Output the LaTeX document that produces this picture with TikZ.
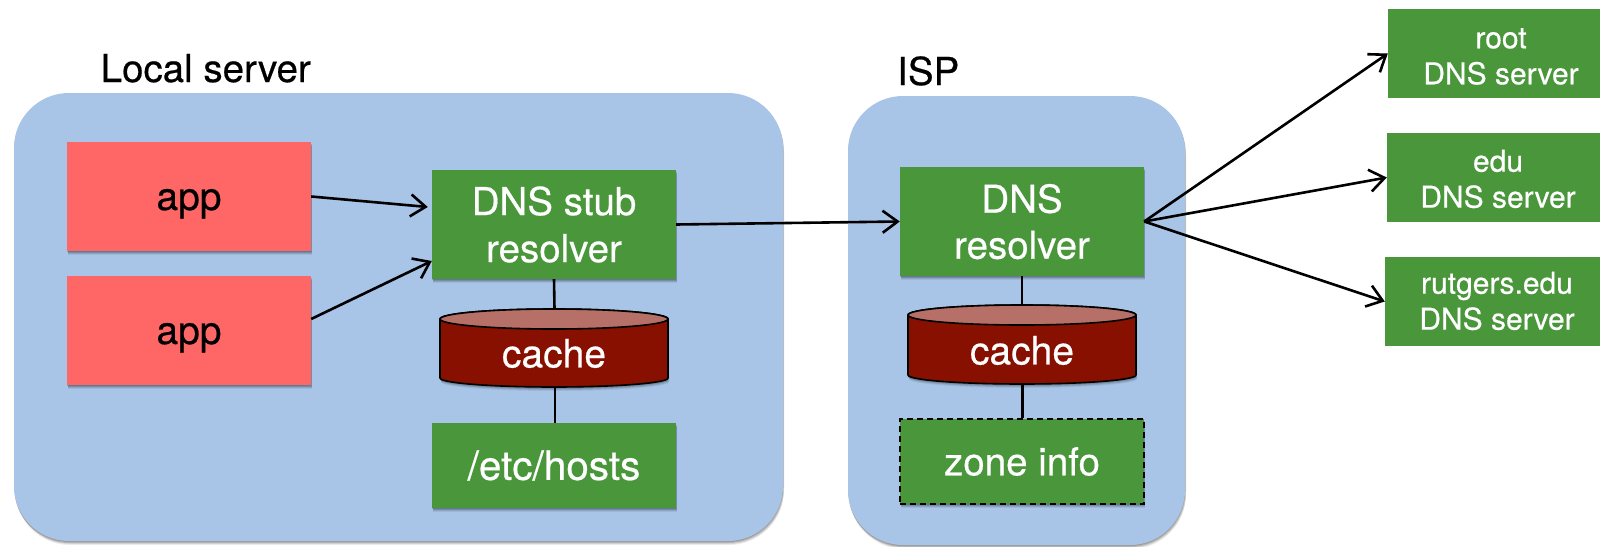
\documentclass[tikz,border=0pt]{standalone}
\usepackage{fontspec}
\setmainfont{TeX Gyre Heros}[RawFeature={embolden=0.5}]
\usetikzlibrary{arrows.meta,shadows}
\definecolor{panel}{HTML}{A8C5E8}
\definecolor{boxgreen}{HTML}{4A963A}
\definecolor{appred}{HTML}{FF6666}
\definecolor{cachered}{HTML}{871000}
\definecolor{cachetop}{HTML}{B77067}
\tikzset{
  softshadow/.style={
    drop shadow={shadow xshift=0pt,shadow yshift=-1pt,opacity=.14,fill=black},
    drop shadow={shadow xshift=0.5pt,shadow yshift=-2pt,opacity=.14,fill=black},
    drop shadow={shadow xshift=1pt,shadow yshift=-3pt,opacity=.10,fill=black},
    drop shadow={shadow xshift=1pt,shadow yshift=-4pt,opacity=.07,fill=black}},
  panelbox/.style={rectangle,rounded corners=55pt,fill=panel,inner sep=0pt,softshadow},
  greenbox/.style={rectangle,fill=boxgreen,inner sep=0pt,text=white,align=center,font=\fontsize{38.5}{46}\selectfont,softshadow},
  appbox/.style={rectangle,fill=appred,inner sep=0pt,text=black,text height=27pt,text depth=0pt,font=\fontsize{39}{47}\selectfont,softshadow},
  srvbox/.style={rectangle,fill=boxgreen,inner sep=0pt},
  srvtext/.style={inner sep=0pt,text=white,align=center,font=\fontsize{30}{36}\selectfont},
  cachetext/.style={inner sep=0pt,text=white,font=\fontsize{39}{47}\selectfont},
  heading/.style={inner sep=0pt,anchor=base west,text=black,font=\fontsize{38.5}{44}\selectfont},
  arrowline/.style={draw=black,line width=2.6pt,-{Straight Barb[length=15pt,width=22pt,line width=2.6pt]}},
  plainline/.style={draw=black,line width=2.6pt},
  cylbody/.style={fill=cachered,draw=black,line width=1.6pt,line join=round},
  cyltop/.style={fill=cachetop,draw=black,line width=1.6pt}
}
\newcommand{\cylinder}[5]{%
  \path[cylbody,softshadow] (#1,#3) -- (#1,#4) arc[start angle=180,end angle=360,x radius=#5pt,y radius=9pt] -- (#2,#3) arc[start angle=0,end angle=180,x radius=#5pt,y radius=10pt] -- cycle;
  \path[cyltop] (#1,#3) arc[start angle=180,end angle=540,x radius=#5pt,y radius=10pt] -- cycle;
}
\begin{document}
\begin{tikzpicture}[x=1pt,y=-1pt]
\useasboundingbox (0,0) rectangle (1600,546);
\fill[white] (0,0) rectangle (1600,546);

% panels
\node[panelbox,minimum width=769pt,minimum height=448pt] (local) at (398.5,317) {};
\node[panelbox,minimum width=337pt,minimum height=449pt] (isp) at (1016.5,320.5) {};
\node[heading] (localt) at (100.5,82) {Local server};
\node[heading] (ispt) at (897,85) {ISP};

% apps
\node[appbox,minimum width=244pt,minimum height=109pt] (app1) at (189,196.5) {app};
\node[appbox,minimum width=244pt,minimum height=109pt] (app2) at (189,330.5) {app};

% local column
\node[greenbox,minimum width=244pt,minimum height=109pt,font=\fontsize{38.5}{47}\selectfont] (stub) at (554,224.5) {\rule{0pt}{28pt}DNS stub\\resolver};
\node[greenbox,minimum width=244pt,minimum height=85pt,font=\fontsize{40.5}{47}\selectfont] (hosts) at (554,465.5) {/etc/hosts};
\coordinate (ca) at (554.5,309);
\coordinate (cb) at (555,387);
\draw[plainline] (stub.south) -- (ca);
\draw[plainline] (cb) -- (cb |- hosts.north);
\cylinder{440}{668}{319}{378}{114}
\node[cachetext] (cache1) at (554,353.5) {cache};

% ISP column
\node[greenbox,minimum width=244pt,minimum height=109pt] (resolver) at (1022,221.5) {\rule{0pt}{29pt}DNS\\resolver};
\node[greenbox,minimum width=244pt,minimum height=85pt,draw=black,dashed,line width=1.5pt,dash pattern=on 6pt off 4pt] (zone) at (1022,461.5) {zone info};
\coordinate (cc) at (1022,306);
\coordinate (cd) at (1022.7,383);
\draw[plainline] (resolver.south) -- (cc);
\draw[plainline] (cd) -- (cd |- zone.north);
\cylinder{908}{1136}{315}{375}{114}
\node[cachetext] (cache2) at (1022,350.5) {cache};

% servers
\node[srvbox,minimum width=212pt,minimum height=89pt] (root) at (1494,53.5) {};
\node[srvbox,minimum width=213pt,minimum height=89pt] (edu) at (1493.5,177.5) {};
\node[srvbox,minimum width=215pt,minimum height=89pt] (rutgers) at (1492.5,301.5) {};
\node[srvtext] (roott) at (1501,56.5) {root\\DNS server};
\node[srvtext] (edut) at (1498,179) {edu\\DNS server};
\node[srvtext] (rutgerst) at (1497,301) {rutgers.edu\\DNS server};

% connectors
\draw[arrowline] (app1.east) -- ([xshift=-4pt,yshift=17.5pt]stub.west);
\draw[arrowline] ([yshift=11.5pt]app2.east) -- ([yshift=-36.5pt]stub.west);
\draw[arrowline] (stub.east) -- (resolver.west);
\draw[arrowline] (resolver.east) -- (root.west);
\draw[arrowline] (resolver.east) -- (edu.west);
\draw[arrowline] (resolver.east) -- (rutgers.west);
\end{tikzpicture}
\end{document}
